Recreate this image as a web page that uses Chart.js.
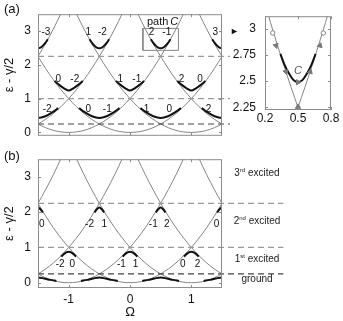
<!DOCTYPE html>
<html>
<head>
<meta charset="utf-8">
<script src="https://cdn.jsdelivr.net/npm/chart.js@4.4.0/dist/chart.umd.min.js"></script>
<style>
  html, body { margin: 0; padding: 0; background: #fff; width: 343px; height: 321px; overflow: hidden; }
  body { position: relative; font-family: "Liberation Sans", Arial, sans-serif; color: #111; }
  canvas { position: absolute; display: block; }
  .tag { position: absolute; font-size: 13px; }
  .lvl { position: absolute; width: 80px; text-align: center; font-size: 10px; line-height: 12px; color: #222; }
  .lvl span { font-size: 6px; position: relative; top: -4px; }
  .mark { position: absolute; font-size: 9px; line-height: 9px; }
</style>
</head>
<body>
<canvas id="chartA" width="250" height="150" style="left:0;top:0"></canvas>
<canvas id="chartB" width="300" height="176" style="left:0;top:145px"></canvas>
<canvas id="chartC" width="118" height="130" style="left:225px;top:0"></canvas>
<div class="tag" style="left:4px;top:1px">(a)</div>
<div class="tag" style="left:4px;top:148px">(b)</div>
<div class="mark" style="left:230px;top:27px">&#9658;</div>
<div class="lvl" style="left:217px;top:167px">3<span>rd</span> excited</div>
<div class="lvl" style="left:217px;top:215px">2<span>nd</span> excited</div>
<div class="lvl" style="left:217px;top:253px">1<span>st</span> excited</div>
<div class="lvl" style="left:217px;top:273px">ground</div>
<script>
// parabola shape (offset from centre -> energy)
const PARA_DX = [-2, -1.75, -1.5, -1.25, -1, -0.75, -0.5, -0.25, 0, 0.25, 0.5, 0.75, 1, 1.25, 1.5, 1.75, 2];
const PARA_E  = [4, 3.06, 2.25, 1.56, 1, 0.56, 0.25, 0.06, 0, 0.06, 0.25, 0.56, 1, 1.56, 2.25, 3.06, 4];
const CENTRES = [-3, -2, -1, 0, 1, 2, 3];

// dashed reference levels
const LEVELS_GRAY = [2.25, 1];
const LEVELS_DARK = [0.25];
const LEVEL_END_A = 1.63;
const LEVEL_END_B = 2.5;

// black anticrossing arcs, panel (a) (upper branches)
const AT_HALF = [-1.5, -0.5, 0.5, 1.5];
const AT_INT = [-1, 0, 1];
const A_LOW_DX = [-0.33, -0.24, -0.12, 0, 0.12, 0.24, 0.33];
const A_LOW_E  = [0.72, 0.6, 0.48, 0.43, 0.48, 0.6, 0.72];
const A_MID_DX = [-0.23, -0.15, -0.07, 0, 0.07, 0.15, 0.23];
const A_MID_E  = [1.52, 1.4, 1.3, 1.24, 1.3, 1.4, 1.52];
const A_TOP_DX = [-0.16, -0.12, -0.08, -0.04, 0, 0.04, 0.08, 0.12, 0.16];
const A_TOP_E  = [2.76, 2.65, 2.57, 2.51, 2.49, 2.51, 2.57, 2.65, 2.76];

// black anticrossing arcs, panel (b) (lower branches)
const B_LOW_DX = [-0.3, -0.2, -0.1, 0, 0.1, 0.2, 0.3];
const B_LOW_E  = [0.05, 0.08, 0.12, 0.15, 0.12, 0.08, 0.05];
const B_MID_DX = [-0.12, -0.08, -0.04, 0, 0.04, 0.08, 0.12];
const B_MID_E  = [0.74, 0.81, 0.86, 0.88, 0.86, 0.81, 0.74];
const B_TOP_DX = [-0.08, -0.04, 0, 0.04, 0.08];
const B_TOP_E  = [1.99, 2.08, 2.13, 2.08, 1.99];

// quantum-number labels
const A_LBL_TXT = ['-3', '1', '-2', '2', '-1', '3', '0', '-2', '1', '-1', '2', '0', '-2', '0', '-1', '1', '0', '2'];
const A_LBL_W = [-1.37, -0.68, -0.45, 0.35, 0.6, 1.39, -1.17, -0.9, -0.16, 0.11, 0.84, 1.14, -1.35, -0.68, -0.37, 0.27, 0.64, 1.28];
const A_LBL_E = [2.96, 2.96, 2.96, 2.96, 2.96, 2.96, 1.57, 1.57, 1.57, 1.57, 1.57, 1.57, 0.7, 0.7, 0.7, 0.7, 0.7, 0.7];
const B_LBL_TXT = ['0', '-2', '1', '-1', '2', '0', '-2', '0', '-1', '1', '0', '2'];
const B_LBL_W = [-1.44, -0.66, -0.42, 0.38, 0.6, 1.41, -1.14, -0.94, -0.14, 0.09, 0.86, 1.1];
const B_LBL_E = [1.65, 1.65, 1.65, 1.65, 1.65, 1.65, 0.52, 0.52, 0.52, 0.52, 0.52, 0.52];

// path C box in (a)
const BOX_W = [0.21, 0.79, 0.79, 0.21, 0.21];
const BOX_E = [2.43, 2.43, 3.08, 3.08, 2.43];

// inset
const INSET_CENTRES = [-1, 2];
const INSET_RING_W = [0.27, 0.73];
const INSET_RING_E = [2.96, 2.96];
const INSET_ARROW_W = [0.3, 0.39, 0.5, 0.61, 0.7, 0.5];
const INSET_ARROW_E = [2.84, 2.59, 2.49, 2.59, 2.84, 2.255];
const INSET_ARROW_ROT = [165, 165, 90, 15, 15, 0];

const GRAY = '#858585';
const INK = '#111';
Chart.defaults.font.family = '"Liberation Sans", Arial, sans-serif';
Chart.defaults.color = INK;

const pts = (xs, ys, c = 0) => xs.map((v, i) => ({ x: c + v, y: ys[i] }));

function family(centres, dx, e, style) {
    return centres.map(c => Object.assign({
        data: pts(dx, e, c), showLine: true, pointRadius: 0, cubicInterpolationMode: 'monotone',
    }, style));
}
const grayStyle = { borderColor: GRAY, borderWidth: 1, order: 3 };
const blackStyle = { borderColor: INK, borderWidth: 2, order: 0 };

function levels(vals, end, color) {
    return vals.map(v => ({
        data: [{ x: -1.5, y: v }, { x: end, y: v }], showLine: true, pointRadius: 0,
        borderColor: color, borderWidth: 1.2, borderDash: [6, 4], clip: false, order: 2,
    }));
}

const frame = {
    id: 'frame',
    afterDraw(chart) {
        const { ctx, chartArea: a, scales: { x, y } } = chart;
        ctx.save();
        ctx.strokeStyle = '#8c8c8c';
        ctx.lineWidth = 1;
        ctx.strokeRect(a.left + 0.5, a.top + 0.5, a.width - 1, a.height - 1);
        ctx.beginPath();
        x.ticks.forEach(t => {
            const p = Math.round(x.getPixelForValue(t.value)) + 0.5;
            ctx.moveTo(p, a.top); ctx.lineTo(p, a.top + 3);
            ctx.moveTo(p, a.bottom); ctx.lineTo(p, a.bottom - 3);
        });
        y.ticks.forEach(t => {
            const p = Math.round(y.getPixelForValue(t.value)) + 0.5;
            ctx.moveTo(a.left, p); ctx.lineTo(a.left + 3, p);
            ctx.moveTo(a.right, p); ctx.lineTo(a.right - 3, p);
        });
        ctx.stroke();
        ctx.restore();
    }
};

const curveLabels = {
    id: 'curveLabels',
    afterDatasetsDraw(chart, args, opts) {
        const { ctx, scales: { x, y } } = chart;
        ctx.save();
        ctx.textAlign = 'center';
        ctx.textBaseline = 'middle';
        (opts.items || []).forEach(it => {
            ctx.font = (it.italic ? 'italic ' : '') + (it.size || 10) + 'px "Liberation Sans", Arial, sans-serif';
            ctx.fillStyle = it.color || INK;
            ctx.fillText(it.t, x.getPixelForValue(it.x), y.getPixelForValue(it.y));
        });
        ctx.restore();
    }
};

const lbl = (txt, ws, es) => txt.map((t, i) => ({ t, x: ws[i], y: es[i] }));
const setTicks = vals => s => { s.ticks = vals.map(v => ({ value: v })); };

function axes(o) {
    return {
        x: {
            type: 'linear', min: o.xMin, max: o.xMax,
            afterBuildTicks: setTicks(o.xTicks),
            afterFit: s => { s.height = o.xH; },
            grid: { display: false, drawTicks: false }, border: { display: false },
            ticks: { display: o.xLabels, font: { size: 12 }, padding: o.xPad, color: INK, callback: v => String(v) },
            title: { display: !!o.xTitle, text: o.xTitle, font: { size: 13 }, padding: { top: 0, bottom: 1 }, color: INK },
        },
        y: {
            type: 'linear', min: o.yMin, max: o.yMax,
            afterBuildTicks: setTicks(o.yTicks),
            afterFit: s => { s.width = o.yW; },
            grid: { display: false, drawTicks: false }, border: { display: false },
            ticks: { font: { size: 12 }, padding: o.yPad, color: INK, callback: v => String(v) },
            title: { display: !!o.yTitle, text: o.yTitle, font: { size: 13 }, padding: { top: 2, bottom: 0 }, color: INK },
        },
    };
}

function baseOptions(padding, scales, items) {
    return {
        responsive: false, animation: false,
        layout: { padding },
        scales,
        plugins: { legend: { display: false }, tooltip: { enabled: false }, curveLabels: { items } },
    };
}

// panel (a)
new Chart(document.getElementById('chartA'), {
    type: 'scatter',
    data: {
        datasets: [
            ...family(AT_HALF, A_LOW_DX, A_LOW_E, blackStyle),
            ...family(AT_INT, A_MID_DX, A_MID_E, blackStyle),
            ...family(AT_HALF, A_TOP_DX, A_TOP_E, blackStyle),
            { data: pts(BOX_W, BOX_E), showLine: true, pointRadius: 0, borderColor: GRAY, borderWidth: 1, order: 1 },
            ...levels(LEVELS_GRAY, LEVEL_END_A, '#9a9a9a'),
            ...levels(LEVELS_DARK, LEVEL_END_A, '#444'),
            ...family(CENTRES, PARA_DX, PARA_E, grayStyle),
        ]
    },
    options: baseOptions({ left: 0, right: 28, top: 5, bottom: 7 },
        axes({ xMin: -1.5, xMax: 1.5, xTicks: [-1, 0, 1], xH: 0, xLabels: false, xPad: 0,
               yMin: -0.1, yMax: 3.5, yTicks: [0, 1, 2, 3], yW: 38, yPad: 7, yTitle: 'ε - γ/2' }),
        [...lbl(A_LBL_TXT, A_LBL_W, A_LBL_E),
         { t: 'path', x: 0.45, y: 3.27, size: 11 }, { t: 'C', x: 0.72, y: 3.27, size: 11, italic: true }]),
    plugins: [frame, curveLabels],
});

// panel (b)
new Chart(document.getElementById('chartB'), {
    type: 'scatter',
    data: {
        datasets: [
            ...family(AT_HALF, B_LOW_DX, B_LOW_E, blackStyle),
            ...family(AT_INT, B_MID_DX, B_MID_E, blackStyle),
            ...family(AT_HALF, B_TOP_DX, B_TOP_E, blackStyle),
            ...levels(LEVELS_GRAY, LEVEL_END_B, '#9a9a9a'),
            ...levels(LEVELS_DARK, LEVEL_END_B, '#444'),
            ...family(CENTRES, PARA_DX, PARA_E, grayStyle),
        ]
    },
    options: baseOptions({ left: 0, right: 78, top: 3, bottom: 0 },
        axes({ xMin: -1.5, xMax: 1.5, xTicks: [-1, 0, 1], xH: 33, xLabels: true, xPad: 4, xTitle: 'Ω',
               yMin: -0.15, yMax: 3.5, yTicks: [0, 1, 2, 3], yW: 38, yPad: 7, yTitle: 'ε - γ/2' }),
        lbl(B_LBL_TXT, B_LBL_W, B_LBL_E)),
    plugins: [frame, curveLabels],
});

// inset: path C
new Chart(document.getElementById('chartC'), {
    type: 'scatter',
    data: {
        datasets: [
            { data: pts(INSET_RING_W, INSET_RING_E), pointStyle: 'circle', pointRadius: 2.2,
              pointBackgroundColor: '#fff', pointBorderColor: GRAY, pointBorderWidth: 1, order: 0 },
            { data: pts(INSET_ARROW_W, INSET_ARROW_E), pointStyle: 'triangle', pointRadius: 3,
              rotation: INSET_ARROW_ROT, pointBackgroundColor: '#777', pointBorderColor: '#777', order: 0 },
            ...family([0.5], A_TOP_DX, A_TOP_E, { borderColor: INK, borderWidth: 2, order: 1 }),
            ...family(INSET_CENTRES, PARA_DX, PARA_E, grayStyle),
        ]
    },
    options: baseOptions({ left: 0, right: 12, top: 5, bottom: 0 },
        axes({ xMin: 0.2, xMax: 0.8, xTicks: [0.2, 0.5, 0.8], xH: 20, xLabels: true, xPad: 1,
               yMin: 2.225, yMax: 3.12, yTicks: [2.25, 2.5, 2.75, 3], yW: 40, yPad: 9 }),
        [{ t: 'C', x: 0.5, y: 2.6, size: 11, italic: true, color: '#555' }]),
    plugins: [frame, curveLabels],
});
</script>
</body>
</html>
